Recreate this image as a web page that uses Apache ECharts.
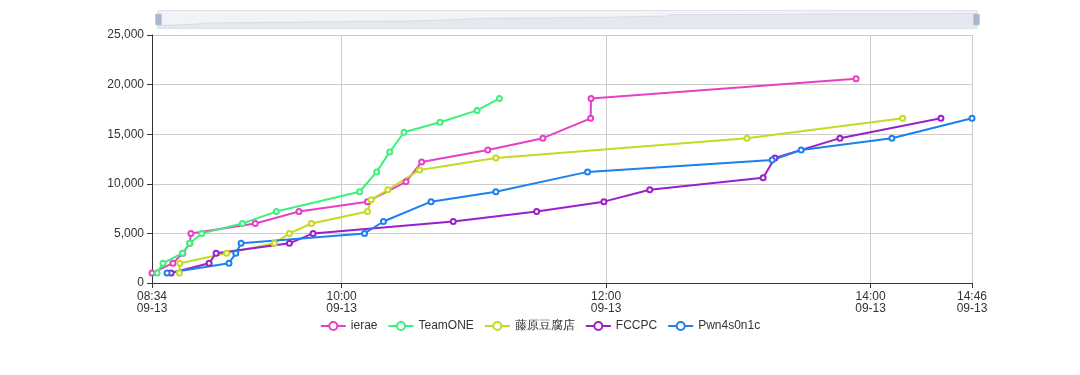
<!DOCTYPE html>
<html>
<head>
<meta charset="utf-8">
<script src="https://cdn.jsdelivr.net/npm/echarts@6/dist/echarts.min.js"></script>
<style>
html,body{margin:0;padding:0;background:#fff;}
#main{width:1080px;height:375px;}
</style>
</head>
<body>
<div id="main"></div>
<script>
var day = '2020-09-13 ';
var teams = ['ierae', 'TeamONE', '藤原豆腐店', 'FCCPC', 'Pwn4s0n1c'];
var colors = ['#e83fc6', '#3ef07c', '#c5db22', '#9b1fcc', '#1c80ef'];

var ieraeTimes = ['08:34:00','08:43:30','08:48:00','08:51:10','08:51:40','09:20:50','09:40:40','10:11:45','10:29:15','10:36:20','11:06:20','11:31:20','11:53:00','11:53:10','13:53:25'];
var ieraeScores = [1000,2000,3000,4000,5000,6000,7200,8200,10200,12200,13400,14600,16600,18600,20600];

var teamoneTimes = ['08:36:20','08:39:00','08:47:50','08:51:05','08:56:35','09:15:00','09:30:25','10:08:10','10:15:55','10:21:50','10:28:20','10:44:40','11:01:30','11:11:35'];
var teamoneScores = [1000,2000,3000,4000,5000,6000,7200,9200,11200,13200,15200,16200,17400,18600];

var fujiwaraTimes = ['08:46:25','08:46:35','09:07:50','09:29:30','09:36:20','09:46:20','10:11:45','10:13:25','10:21:00','10:35:25','11:10:00','13:03:55','14:14:35'];
var fujiwaraScores = [1000,2000,3000,4000,5000,6000,7200,8400,9400,11400,12600,14600,16600];

var fccpcTimes = ['08:42:40','08:59:55','09:03:05','09:36:20','09:47:05','10:50:40','11:28:30','11:59:00','12:19:50','13:11:15','13:16:35','13:46:05','14:31:55'];
var fccpcScores = [1000,2000,3000,4000,5000,6200,7200,8200,9400,10600,12600,14600,16600];

var pwnTimes = ['08:40:50','09:08:55','09:12:00','09:14:25','10:10:25','10:19:00','10:40:35','11:10:00','11:51:35','13:15:20','13:28:30','14:09:40','14:46:00'];
var pwnScores = [1000,2000,3000,4000,5000,6200,8200,9200,11200,12400,13400,14600,16600];

var yTicks = [0, 5000, 10000, 15000, 20000, 25000];

var allTimes = [ieraeTimes, teamoneTimes, fujiwaraTimes, fccpcTimes, pwnTimes];
var allScores = [ieraeScores, teamoneScores, fujiwaraScores, fccpcScores, pwnScores];

function pairs(times, scores) {
  return times.map(function (t, i) { return [day + t, scores[i]]; });
}

var series = teams.map(function (name, i) {
  return {
    name: name,
    type: 'line',
    data: pairs(allTimes[i], allScores[i]),
    symbol: 'emptyCircle',
    symbolSize: 5,
    showAllSymbol: true,
    lineStyle: { width: 2, color: colors[i] },
    itemStyle: { color: colors[i], borderWidth: 1 },
    animation: false
  };
});

var chart = echarts.init(document.getElementById('main'), null, { renderer: 'canvas' });
chart.setOption({
  animation: false,
  color: colors,
  textStyle: { fontFamily: 'Liberation Sans, Arial, sans-serif' },
  grid: { left: 152, right: 108, top: 35, bottom: 92, containLabel: false },
  dataZoom: [{
    type: 'slider',
    xAxisIndex: 0,
    top: 10,
    height: 19,
    left: 155,
    right: 105,
    showDetail: false,
    brushSelect: false,
    moveHandleSize: 0,
    borderColor: '#dde1e8',
    backgroundColor: 'rgba(0,0,0,0)',
    fillerColor: 'rgba(200,208,220,0.25)',
    handleIcon: 'path://M0,0h6v12h-6z',
    handleSize: '55%',
    handleStyle: { color: '#a7b7cc', borderColor: '#a7b7cc' },
    dataBackground: {
      lineStyle: { color: '#d5dae3', width: 1, opacity: 0.8 },
      areaStyle: { color: '#e3e7ee', opacity: 0.6 }
    },
    selectedDataBackground: {
      lineStyle: { color: '#d5dae3', width: 1, opacity: 0.8 },
      areaStyle: { color: '#e3e7ee', opacity: 0.6 }
    }
  }],
  legend: {
    data: teams,
    bottom: 38,
    left: 'center',
    itemWidth: 25,
    itemHeight: 10,
    itemGap: 10,
    textStyle: { color: '#333', fontSize: 12 }
  },
  xAxis: {
    type: 'time',
    splitNumber: 3,
    axisLine: { show: true, lineStyle: { color: '#333' } },
    axisTick: { show: true, lineStyle: { color: '#333' } },
    axisLabel: {
      color: '#333',
      fontSize: 12,
      formatter: '{HH}:{mm}\n{MM}-{dd}',
      showMinLabel: true,
      showMaxLabel: true
    },
    splitLine: { show: true, lineStyle: { color: '#ccc' } }
  },
  yAxis: {
    type: 'value',
    min: yTicks[0],
    max: yTicks[yTicks.length - 1],
    interval: yTicks[1] - yTicks[0],
    axisLine: { show: true, lineStyle: { color: '#333' } },
    axisTick: { show: true, lineStyle: { color: '#333' } },
    axisLabel: { color: '#333', fontSize: 12 },
    splitLine: { show: true, lineStyle: { color: '#ccc' } }
  },
  series: series
});
</script>
</body>
</html>
